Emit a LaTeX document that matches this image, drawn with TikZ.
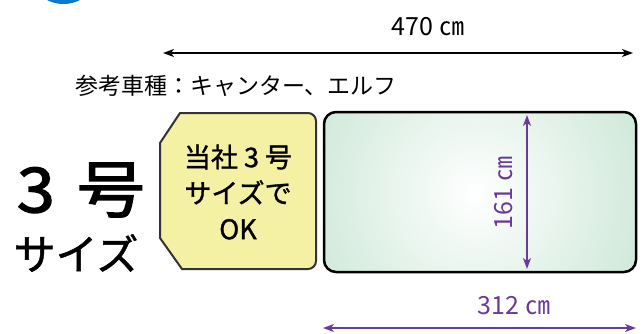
\documentclass[tikz,border=0pt]{standalone}
\usepackage{fontspec}
\setmainfont{Noto Sans CJK JP}
\newfontfamily\boldjp[FakeBold=1.2]{Noto Sans CJK JP}
\newfontfamily\heavyjp[FakeBold=2.2]{Noto Sans CJK JP}
\usetikzlibrary{arrows.meta,calc}

\definecolor{dotblue}{HTML}{0A7BCB}
\definecolor{boxyellow}{HTML}{F4F1A4}
\definecolor{bedgreen}{HTML}{BEE1CC}
\definecolor{violetline}{HTML}{6A3A99}

\tikzset{
  dimblack/.style={line width=1.4pt, black, {Stealth[length=11pt,width=8pt,inset=3pt]}-{Stealth[length=11pt,width=8pt,inset=3pt]}},
  dimviolet/.style={line width=1.4pt, violetline, {Stealth[length=11pt,width=8pt,inset=3pt]}-{Stealth[length=11pt,width=8pt,inset=3pt]}},
  dimlabel/.style={inner sep=0pt, font=\fontsize{25}{25}\selectfont},
}

\begin{document}
\begin{tikzpicture}[x=1pt,y=-1pt]
		\useasboundingbox (0,0) rectangle (643,333);
		\begin{scope}
			\clip (0,0) rectangle (643,333);
			\fill[dotblue] (63.5,-32) circle (36);
		\end{scope}
		
		% overall length
		\coordinate (len-l) at (163,53);
		\coordinate (len-r) at (633,53);
		\draw[dimblack] (len-l) -- (len-r);
		\node[dimlabel] (len) at (428,27) {470 ㎝};
		
		\node[inner sep=0pt, font=\fontsize{23}{23}\selectfont] (car) at (236,86) {参考車種：キャンター、エルフ};
		
		% size 3 box
		\draw[line width=2pt, draw=black!80, fill=boxyellow] (180,113) -- (308,113) arc[start angle=-90,end angle=0,radius=8] -- (316,261) arc[start angle=0,end angle=90,radius=8] -- (182,269) -- (160,238) -- (160,143) -- cycle;
		\node[align=center, inner sep=0pt, font=\boldjp\fontsize{27}{36}\selectfont] (ok) at (238,192) {当社 3 号\\サイズで\\OK};
		
		\node[inner sep=0pt, xscale=1.1, font=\heavyjp\fontsize{62}{62}\selectfont] (size) at (81,190) {3\hspace{20pt}号};
		\node[inner sep=0pt, font=\boldjp\fontsize{42}{42}\selectfont] (sizetxt) at (76,253) {サイズ};
		
		% bed
		\node[draw, line width=2.5pt, rounded corners=12pt, minimum width=312pt, minimum height=160pt, fill=bedgreen,
			path picture={\shade[inner color=white, outer color=bedgreen] ([shift={(-5pt,-2pt)}]path picture bounding box.center) circle (240pt);}] (bed) at (480,192) {};
		
		\coordinate (wid-t) at (527,115);
		\coordinate (wid-b) at (527,269);
		\draw[dimviolet] (wid-t) -- (wid-b);
		\node[dimlabel, text=violetline, rotate=90] (wid) at (504,193) {161 ㎝};
		
		\coordinate (bed-l) at (323,328);
		\coordinate (bed-r) at (636,328);
		\draw[dimviolet] (bed-l) -- (bed-r);
		\node[dimlabel, text=violetline] (blen) at (514,306) {312 ㎝};
	
	\end{tikzpicture}
\end{document}
